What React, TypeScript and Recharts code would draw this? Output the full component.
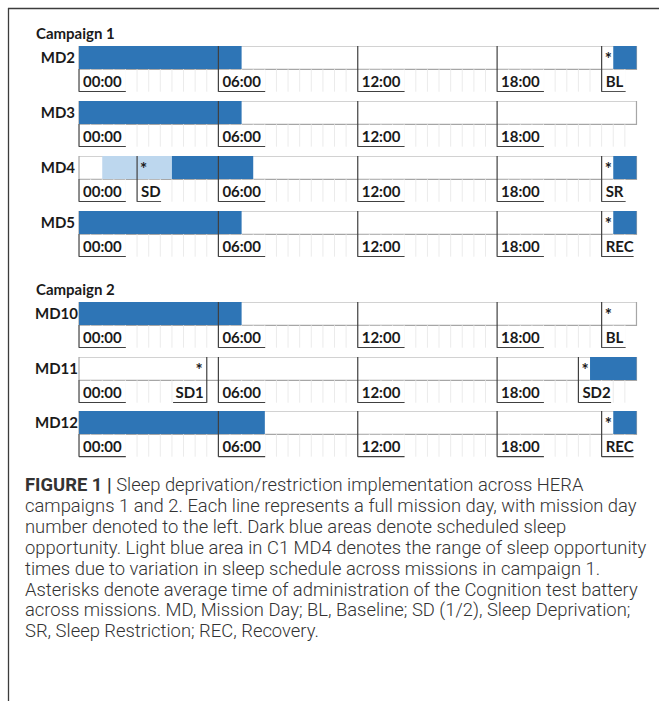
import React from "react";
import { Bar, BarChart, ReferenceArea, XAxis, YAxis } from "recharts";

// mission days, top to bottom
const days = ["MD2", "MD3", "MD4", "MD5", "MD10", "MD11", "MD12"];
const campaignOf = [1, 1, 1, 1, 2, 2, 2];

// scheduled sleep opportunity, hours of the day [from, to]
const sleepWindows = [
  [[0, 7], [23, 24]],
  [[0, 7]],
  [[4, 7.5], [23, 24]],
  [[0, 7], [23, 24]],
  [[0, 7]],
  [[22, 24]],
  [[0, 8], [23, 24]],
];

// range of sleep opportunity (light blue)
const rangeWindows = [[], [], [[1, 4]], [], [], [], []];

// cognition test battery: [label, hour]
const testLabels = [
  [["BL", 22.5]],
  [],
  [["SD", 2.5], ["SR", 22.5]],
  [["REC", 22.5]],
  [["BL", 22.5]],
  [["SD1", 5.5], ["SD2", 21.5]],
  [["REC", 22.5]],
];
const rightAligned = ["SD1"];

const clockTicks = [0, 6, 12, 18];
const clockLabels = ["00:00", "06:00", "12:00", "18:00"];

const captionLines = [
  "Sleep deprivation/restriction implementation across HERA",
  "campaigns 1 and 2. Each line represents a full mission day, with mission day",
  "number denoted to the left. Dark blue areas denote scheduled sleep",
  "opportunity. Light blue area in C1 MD4 denotes the range of sleep opportunity",
  "times due to variation in sleep schedule across missions in campaign 1.",
  "Asterisks denote average time of administration of the Cognition test battery",
  "across missions. MD, Mission Day; BL, Baseline; SD (1/2), Sleep Deprivation;",
  "SR, Sleep Restriction; REC, Recovery.",
];

const DARK = "#2e75b6";
const LIGHT = "#bdd7ee";
const LINE = "#404040";
const OUTLINE = "#a6a6a6";
const FAINT = "#ebebeb";
const FONT = "Lato, 'Open Sans', sans-serif";
const INK = "#1a1a1a";

const BAR_H = 23.3;
const ROW_H = 22.4;
const PLOT_RIGHT = 636.5;
const halfHours = Array.from({ length: 47 }, (_, k) => (k + 1) / 2);

function textW(s: string) {
  let w = 0;
  for (const c of s) w += /[0-9]/.test(c) ? 8.7 : c === ":" ? 4 : 8;
  return w;
}

function rowTop(i: number) {
  const c1 = campaignOf[i] === 1;
  const k = c1 ? i : i - 4;
  return (c1 ? 46 : 301.7) + k * 54.85;
}

function buildRow(i: number) {
  const blocks = [
    ...sleepWindows[i].map(([a, b]) => ({ a, b, fill: DARK })),
    ...rangeWindows[i].map(([a, b]) => ({ a, b, fill: LIGHT })),
  ].sort((p, q) => p.a - q.a);
  const segs: { len: number; fill: string }[] = [];
  let t = 0;
  for (const bl of blocks) {
    if (bl.a > t) segs.push({ len: bl.a - t, fill: "transparent" });
    segs.push({ len: bl.b - bl.a, fill: bl.fill });
    t = bl.b;
  }
  if (t < 24) segs.push({ len: 24 - t, fill: "transparent" });
  const row: Record<string, any> = { day: days[i] };
  segs.forEach((s, k) => (row["s" + k] = s.len));
  return { data: [row], segs };
}

function makeTick(i: number) {
  const marks = testLabels[i];
  return (props: any) => {
    const { x, y, payload } = props;
    const v = payload.value;
    const ci = clockTicks.indexOf(v);
    const mark = marks.find((m) => m[1] === v);
    if (ci < 0 && !mark) {
      return <line x1={x} x2={x} y1={y} y2={y + ROW_H} stroke={FAINT} />;
    }
    const text = mark ? (mark[0] as string) : clockLabels[ci];
    const right = rightAligned.includes(text);
    const w = right ? textW(text) + 9 : Math.min(textW(text) + 8, PLOT_RIGHT - x);
    const x0 = right ? x - w : x;
    return (
      <g>
        <rect x={x0 + 0.5} y={y + 0.5} width={w - 0.5} height={ROW_H - 1} fill="#fff" />
        <line x1={x} x2={x} y1={v === 0 ? y : y - BAR_H} y2={y + ROW_H} stroke={LINE} strokeWidth={1.2} />
        <line x1={x0} x2={x0 + w} y1={y + ROW_H} y2={y + ROW_H} stroke={LINE} strokeWidth={1.2} />
        <text
          x={right ? x - 3 : x + 4}
          y={y + 17.5}
          textAnchor={right ? "end" : "start"}
          fontFamily={FONT}
          fontWeight={700}
          fontSize={15}
          fill={INK}
        >
          {text}
        </text>
        {mark && (
          <text
            x={right ? x - 4 : x + 3}
            y={y - BAR_H + 19}
            textAnchor={right ? "end" : "start"}
            fontFamily={FONT}
            fontWeight={700}
            fontSize={17}
            fill={INK}
          >
            *
          </text>
        )}
      </g>
    );
  };
}

function DayRow({ i }: { i: number }) {
  const { data, segs } = buildRow(i);
  const labelTimes = testLabels[i].map((m) => m[1] as number);
  const marked = [...clockTicks, ...labelTimes];
  const ticks = [...halfHours.filter((h) => !marked.includes(h)), ...marked];
  return (
    <BarChart
      width={659}
      height={BAR_H + 23}
      data={data}
      layout="vertical"
      barCategoryGap={0}
      margin={{ top: 0, right: 659 - PLOT_RIGHT, bottom: 0, left: 0 }}
    >
      <ReferenceArea x1={0} x2={24} fill="none" stroke={OUTLINE} strokeWidth={1.2} ifOverflow="visible" />
      {segs.map((s, k) => (
        <Bar key={k} dataKey={"s" + k} stackId="day" fill={s.fill} isAnimationActive={false} />
      ))}
      <YAxis
        type="category"
        dataKey="day"
        width={79}
        tickLine={false}
        axisLine={false}
        tickSize={0}
        tickMargin={campaignOf[i] === 1 ? 4 : 1}
        tick={{ fontFamily: FONT, fontWeight: 700, fontSize: 15, fill: INK }}
      />
      <XAxis
        type="number"
        domain={[0, 24]}
        ticks={ticks}
        interval={0}
        tickLine={false}
        axisLine={false}
        tickSize={0}
        tickMargin={0}
        height={23}
        tick={makeTick(i)}
      />
    </BarChart>
  );
}

export default function App() {
  return (
    <div style={{ position: "relative", width: 659, height: 701, overflow: "hidden", background: "#fff" }}>
      <style>{`body{margin:0}`}</style>
      <svg width={659} height={701} style={{ position: "absolute", left: 0, top: 0 }}>
        <line x1={8} x2={659} y1={8.5} y2={8.5} stroke="#3c3c3c" strokeWidth={1.3} />
        <line x1={8.5} x2={8.5} y1={8} y2={701} stroke="#3c3c3c" strokeWidth={1.3} />
        <text x={36} y={39} fontFamily={FONT} fontWeight={700} fontSize={15} fill={INK}>
          Campaign 1
        </text>
        <text x={36} y={295} fontFamily={FONT} fontWeight={700} fontSize={15} fill={INK}>
          Campaign 2
        </text>
        {captionLines.map((line, k) => (
          <text
            key={k}
            x={25}
            y={491 + k * 20.9}
            fontFamily="Roboto, 'Liberation Sans', sans-serif"
            fontWeight={300}
            fontSize={18.4}
            fill="#333"
          >
            {k === 0 && <tspan fontWeight={700}>FIGURE 1 | </tspan>}
            {line}
          </text>
        ))}
      </svg>
      {days.map((d, i) => (
        <div key={d} style={{ position: "absolute", left: 0, top: rowTop(i) }}>
          <DayRow i={i} />
        </div>
      ))}
    </div>
  );
}
